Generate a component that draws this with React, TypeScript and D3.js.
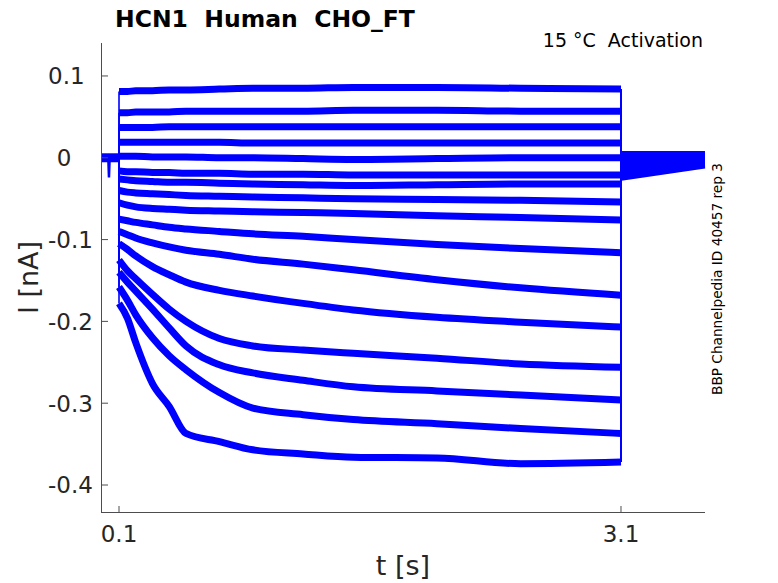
import React from 'react';
import * as d3 from 'd3';

// ---- data ----
const stepTimes = [0.1, 0.15, 0.2, 0.3, 0.4, 0.5, 0.7, 0.9, 1.2, 1.5, 2.0, 2.5, 3.1];

const traces: number[][] = [
  [0.081, 0.081, 0.082, 0.082, 0.083, 0.083, 0.084, 0.085, 0.085, 0.086, 0.086, 0.085, 0.084],
  [0.055, 0.055, 0.056, 0.056, 0.056, 0.057, 0.057, 0.057, 0.057, 0.058, 0.058, 0.057, 0.057],
  [0.037, 0.037, 0.037, 0.037, 0.038, 0.038, 0.038, 0.038, 0.038, 0.038, 0.038, 0.038, 0.038],
  [0.019, 0.019, 0.019, 0.019, 0.019, 0.019, 0.019, 0.018, 0.018, 0.018, 0.018, 0.018, 0.018],
  [0.002, 0.002, 0.002, 0.001, 0.001, 0.001, 0.0, 0.0, -0.001, -0.002, -0.001, 0.0, 0.0],
  [-0.016, -0.017, -0.017, -0.018, -0.018, -0.019, -0.019, -0.02, -0.02, -0.021, -0.021, -0.021, -0.021],
  [-0.026, -0.027, -0.028, -0.029, -0.03, -0.03, -0.031, -0.032, -0.033, -0.034, -0.033, -0.032, -0.032],
  [-0.04, -0.042, -0.043, -0.044, -0.045, -0.046, -0.047, -0.048, -0.049, -0.05, -0.051, -0.052, -0.054],
  [-0.055, -0.058, -0.06, -0.062, -0.063, -0.064, -0.065, -0.066, -0.067, -0.068, -0.071, -0.073, -0.076],
  [-0.075, -0.077, -0.079, -0.082, -0.085, -0.087, -0.09, -0.093, -0.096, -0.1, -0.106, -0.111, -0.116],
  [-0.09, -0.094, -0.098, -0.104, -0.109, -0.113, -0.118, -0.124, -0.13, -0.137, -0.149, -0.159, -0.168],
  [-0.105, -0.112, -0.12, -0.133, -0.143, -0.152, -0.162, -0.169, -0.178, -0.186, -0.195, -0.201, -0.207],
  [-0.125, -0.138, -0.148, -0.167, -0.185, -0.2, -0.221, -0.23, -0.235, -0.239, -0.245, -0.252, -0.256],
  [-0.14, -0.152, -0.163, -0.185, -0.208, -0.23, -0.253, -0.263, -0.272, -0.28, -0.285, -0.29, -0.296],
  [-0.158, -0.174, -0.192, -0.22, -0.242, -0.259, -0.287, -0.306, -0.314, -0.32, -0.325, -0.331, -0.337],
  [-0.178, -0.196, -0.226, -0.276, -0.304, -0.337, -0.347, -0.357, -0.362, -0.366, -0.367, -0.374, -0.372],
];

const tailTimes = [3.1, 3.6];
const tailStart = [0.004, 0.004, 0.004, 0.003, 0.002, 0.0, -0.002, -0.004, -0.007, -0.01, -0.013, -0.016, -0.018, -0.02, -0.022, -0.024];
const tailEnd = [0.004, 0.004, 0.004, 0.003, 0.002, 0.001, 0.0, -0.001, -0.002, -0.003, -0.004, -0.005, -0.006, -0.007, -0.008, -0.009];

const baseTimes = [-0.0076, 0.1];
const baseValues = [0.0, 0.0];
const spikeTimes = [0.036, 0.04, 0.044];
const spikeValues = [0.0, -0.024, 0.0];

const yTicks = [0.1, 0, -0.1, -0.2, -0.3, -0.4];
const yTickLabels = ['0.1', '0', '-0.1', '-0.2', '-0.3', '-0.4'];
const xTicks = [0.1, 3.1];
const xTickLabels = ['0.1', '3.1'];

const titleText = 'HCN1  Human  CHO_FT';
const subtitleText = '15 °C  Activation';
const sideText = 'BBP Channelpedia ID 40457 rep 3';
const xLabel = 't [s]';
const yLabel = 'I [nA]';

// ---- component ----
const W = 778;
const H = 583;
const BLUE = '#0000ff';
const FONT = 'DejaVu Sans, sans-serif';

export default function App() {
  const x = d3.scaleLinear().domain([-0.0076, 3.602]).range([101, 705]);
  const y = d3.scaleLinear().domain([-0.433, 0.1403]).range([512, 43]);

  const line = d3
    .line<[number, number]>()
    .x((d) => x(d[0]))
    .y((d) => y(d[1]))
    .curve(d3.curveMonotoneX);
  const straight = d3
    .line<[number, number]>()
    .x((d) => x(d[0]))
    .y((d) => y(d[1]));

  const basePath = straight(baseTimes.map((t, i) => [t, baseValues[i]] as [number, number])) || '';
  const spikePath = straight(spikeTimes.map((t, i) => [t, spikeValues[i]] as [number, number])) || '';

  const [x0, x1] = x.range();
  const [yb, yt] = y.range();

  return (
    <svg width={W} height={H} style={{ position: 'absolute', left: 0, top: 0, background: '#fff' }}>
      <rect x={0} y={0} width={W} height={H} fill="#fff" />
      {/* pre-step baseline */}
      <path d={basePath} stroke={BLUE} strokeWidth={9} fill="none" />
      <path d={spikePath} stroke={BLUE} strokeWidth={2.5} fill="none" />
      {traces.map((vals, i) => {
        const pts = stepTimes.map((t, j) => [t, vals[j]] as [number, number]);
        const tail = tailTimes.map((t, j) => [t, j === 0 ? tailStart[i] : tailEnd[i]] as [number, number]);
        const upStep = straight([[stepTimes[0], baseValues[1]], [stepTimes[0], vals[0]]]) || '';
        const downStep = straight([[tailTimes[0], vals[vals.length - 1]], [tailTimes[0], tailStart[i]]]) || '';
        return (
          <g key={i}>
            <path d={upStep} stroke={BLUE} strokeWidth={1.6} fill="none" />
            <path d={downStep} stroke={BLUE} strokeWidth={2} fill="none" />
            <path d={line(pts) || ''} stroke={BLUE} strokeWidth={7} strokeLinejoin="round" fill="none" />
            <path d={straight(tail) || ''} stroke={BLUE} strokeWidth={7} fill="none" />
          </g>
        );
      })}

      {/* axes */}
      <line x1={x0 + 0.5} x2={x0 + 0.5} y1={yt} y2={yb + 0.5} stroke="#4d4d4d" strokeWidth={1} />
      <line x1={x0} x2={x1} y1={yb + 0.5} y2={yb + 0.5} stroke="#4d4d4d" strokeWidth={1} />
      {yTicks.map((v, i) => (
        <g key={'yt' + i}>
          <line x1={x0} x2={x0 + 7} y1={y(v)} y2={y(v)} stroke="#4d4d4d" strokeWidth={1} />
          <text
            x={v === 0 ? 64 : 48}
            y={y(v)}
            dy="0.365em"
            textAnchor={v === 0 ? 'middle' : 'start'}
            fontFamily={FONT}
            fontSize={23}
            fill="#262626"
          >
            {yTickLabels[i]}
          </text>
        </g>
      ))}
      {xTicks.map((v, i) => (
        <g key={'xt' + i}>
          <line x1={x(v)} x2={x(v)} y1={yb} y2={yb - 6} stroke="#4d4d4d" strokeWidth={1} />
          <text x={x(v)} y={542} textAnchor="middle" fontFamily={FONT} fontSize={23} fill="#262626">
            {xTickLabels[i]}
          </text>
        </g>
      ))}

      {/* labels */}
      <text x={(x0 + x1) / 2} y={575} textAnchor="middle" fontFamily={FONT} fontSize={27} fill="#262626" style={{ whiteSpace: 'pre' }}>
        {xLabel}
      </text>
      <text
        transform={`translate(38,${(yt + yb) / 2}) rotate(-90)`}
        textAnchor="middle"
        fontFamily={FONT}
        fontSize={27}
        fill="#262626"
        style={{ whiteSpace: 'pre' }}
      >
        {yLabel}
      </text>
      <text x={115} y={27} fontFamily={FONT} fontWeight="bold" fontSize={23.5} fill="#000" style={{ whiteSpace: 'pre' }}>
        {titleText}
      </text>
      <text x={703} y={47} textAnchor="end" fontFamily={FONT} fontSize={19} fill="#000" style={{ whiteSpace: 'pre' }}>
        {subtitleText}
      </text>
      <text
        transform="translate(721.5,279) rotate(-90)"
        textAnchor="middle"
        fontFamily={FONT}
        fontSize={14}
        textLength={232}
        lengthAdjust="spacingAndGlyphs"
        fill="#000"
      >
        {sideText}
      </text>
    </svg>
  );
}
